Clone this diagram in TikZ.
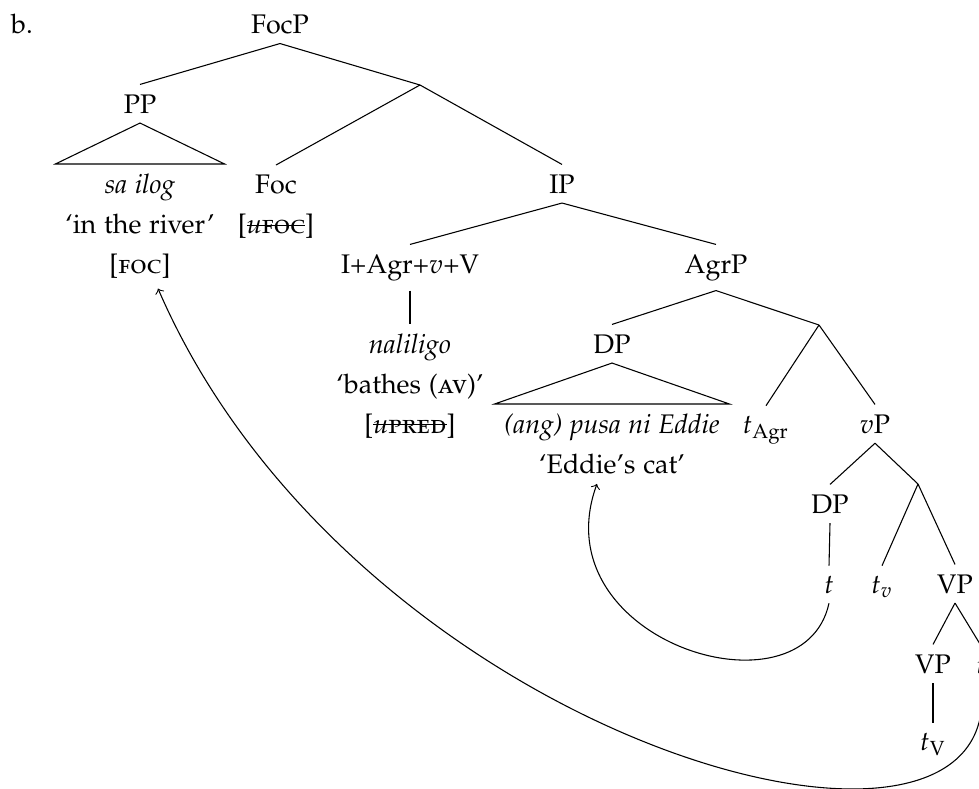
\documentclass[tikz,border=0pt]{standalone}
\usepackage[T1]{fontenc}
\usepackage[sc]{mathpazo}
\newcommand\mystrike[1]{\setbox0=\hbox{#1}\rlap{\rule[0.3em]{\wd0}{0.4pt}}\box0}
\begin{document}
\begin{tikzpicture}[x=0.372pt,y=-0.372pt,
  lab/.style={anchor=base,inner sep=3.5pt,font=\fontsize{10pt}{14.9pt}\selectfont},
  leaf/.style={anchor=north,inner sep=3.5pt,align=center,font=\fontsize{10pt}{14.9pt}\selectfont},
  every path/.style={line width=0.4pt}]
\useasboundingbox (0,0) rectangle (979,788);
\node[lab] (b) at (22,33) {b.};
\node[lab] (focp) at (280,33) {FocP};
\coordinate (n1) at (420,85);
\node[lab] (pp) at (140,113) {PP};
\node[leaf] (ppl) at (140,164) {\textit{sa ilog}\\`in the river'\\{[}\textsc{foc}{]}};
\node[leaf] (foc) at (276,165) {Foc\\{[}\mystrike{\textit{u}\textsc{foc}}{]}};
\node[lab] (ip) at (562,193) {IP};
\node[lab] (iagr) at (410,273) {I+Agr+$v$+V};
\node[lab] (agrp) at (716,273) {AgrP};
\node[leaf] (nal) at (410,324) {\textit{naliligo}\\`bathes (\textsc{av})'\\{[}\mystrike{\textit{u}\textsc{pred}}{]}};
\node[lab] (dp) at (612,353) {DP};
\coordinate (n2) at (819,325);
\node[leaf] (dpl) at (612,404) {\textit{(ang) pusa ni Eddie}\\`Eddie's cat'};
\node[lab] (tagr) at (766,433) {$t_{\mathrm{Agr}}$};
\node[lab] (vp) at (875,433) {$v$P};
\node[lab] (dp2) at (830,513) {DP};
\coordinate (n3) at (918,484);
\node[lab] (t1) at (829,593) {$t$};
\node[lab] (tv) at (882,593) {$t_v$};
\node[lab] (vp2) at (955,593) {VP};
\node[lab] (vp3) at (933,673) {VP};
\node[lab] (t2) at (981,673) {$t$};
\node[lab] (tV) at (933,750) {$t_{\mathrm{V}}$};

\draw (focp.south) -- (pp.north);
\draw (focp.south) -- (n1);
\draw (pp.south) -- (ppl.north west) -- (ppl.north east) -- cycle;
\draw (n1) -- (foc.north);
\draw (n1) -- (ip.north);
\draw (ip.south) -- (iagr.north);
\draw (ip.south) -- (agrp.north);
\draw (iagr.south) -- (nal.north);
\draw (agrp.south) -- (dp.north);
\draw (agrp.south) -- (n2);
\draw (dp.south) -- (dpl.north west) -- (dpl.north east) -- cycle;
\draw (n2) -- (tagr.north);
\draw (n2) -- (vp.north);
\draw (vp.south) -- (dp2.north);
\draw (vp.south) -- (n3);
\draw (dp2.south) -- (t1.north);
\draw (n3) -- (tv.north);
\draw (n3) -- (vp2.north);
\draw (vp2.south) -- (vp3.north);
\draw (vp2.south) -- (t2.north);
\draw (vp3.south) -- (tV.north);

\draw[->] (t1.south) .. controls +(-26,119) and +(-57,157) .. ([xshift=-5.6pt]dpl.south);
\draw[->] (t2.south) .. controls +(30,238) and +(197,455) .. ([xshift=6.7pt]ppl.south);
\end{tikzpicture}
\end{document}
